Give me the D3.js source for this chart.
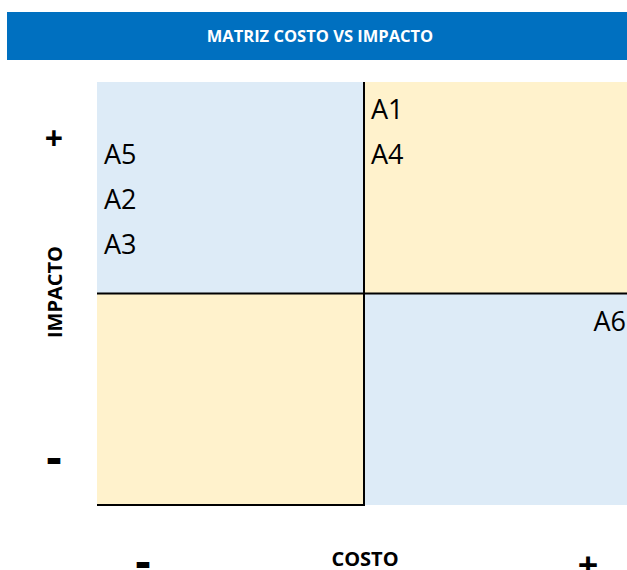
<!DOCTYPE html>
<html>
<head>
<meta charset="utf-8">
<script src="https://cdn.jsdelivr.net/npm/d3@7"></script>
<style>
  body { margin: 0; background: #fff; }
  svg { display: block; font-family: "Open Sans", sans-serif; }
</style>
</head>
<body>
<div id="chart"></div>
<script>
const title = "MATRIZ COSTO VS IMPACTO";
const costLevels = ["-", "+"];
const impactLevels = ["+", "-"];
const quadrantColors = ["#DDEBF7", "#FFF2CC", "#FFF2CC", "#DDEBF7"];
const items = ["A1", "A4", "A5", "A2", "A3", "A6"];
const itemCost = ["+", "+", "-", "-", "-", "+"];
const itemImpact = ["+", "+", "+", "+", "+", "-"];
const itemRow = [0, 1, 1, 2, 3, 0];

const width = 627, height = 570;
const svg = d3.select("#chart").append("svg").attr("width", width).attr("height", height);

// header
svg.append("rect").attr("x", 7).attr("y", 12).attr("width", width - 7).attr("height", 48).attr("fill", "#0070C0");
svg.append("text").attr("x", 320).attr("y", 42).attr("text-anchor", "middle")
  .attr("fill", "#fff").attr("font-weight", "bold").attr("font-size", "16.5px").text(title);

const x = d3.scaleBand().domain(costLevels).range([97, 631]);
const y = d3.scaleBand().domain(impactLevels).range([82, 505]);

const quads = [];
impactLevels.forEach(im => costLevels.forEach(c => quads.push({ cost: c, impact: im })));
svg.selectAll(".quad").data(quads).enter().append("rect")
  .attr("class", "quad")
  .attr("x", d => x(d.cost)).attr("y", d => y(d.impact))
  .attr("width", x.bandwidth()).attr("height", y.bandwidth())
  .attr("fill", (d, i) => quadrantColors[i]);

// divider lines
const midX = x("+"), midY = y("-");
svg.append("line").attr("x1", midX).attr("x2", midX).attr("y1", y("+")).attr("y2", y.range()[1] + 1)
  .attr("stroke", "#000").attr("stroke-width", 2);
svg.append("line").attr("x1", x("-")).attr("x2", width).attr("y1", midY).attr("y2", midY)
  .attr("stroke", "#000").attr("stroke-width", 2);
svg.append("line").attr("x1", x("-")).attr("x2", midX + 1).attr("y1", y.range()[1]).attr("y2", y.range()[1])
  .attr("stroke", "#000").attr("stroke-width", 2);

// items
const rowStep = 45;
svg.selectAll(".item").data(items).enter().append("text")
  .attr("class", "item")
  .attr("x", (d, i) => itemCost[i] === "+" && itemImpact[i] === "-" ? width - 1 : x(itemCost[i]) + 7)
  .attr("y", (d, i) => y(itemImpact[i]) + 37 + itemRow[i] * rowStep)
  .attr("text-anchor", (d, i) => itemCost[i] === "+" && itemImpact[i] === "-" ? "end" : "start")
  .attr("font-size", "27px").attr("fill", "#000")
  .text(d => d);

// axis signs
svg.append("text").attr("x", 54).attr("y", 150).attr("text-anchor", "middle")
  .attr("font-weight", "bold").attr("font-size", "32px").text(impactLevels[0]);
svg.append("text").attr("x", 54).attr("y", 474).attr("text-anchor", "middle")
  .attr("font-weight", "bold").attr("font-size", "48px").text(impactLevels[1]);
svg.append("text").attr("x", 143).attr("y", 578).attr("text-anchor", "middle")
  .attr("font-weight", "bold").attr("font-size", "48px").text(costLevels[0]);
svg.append("text").attr("x", 588).attr("y", 578).attr("text-anchor", "middle")
  .attr("font-weight", "bold").attr("font-size", "36px").text(costLevels[1]);

// axis titles
svg.append("text").attr("x", 365).attr("y", 566).attr("text-anchor", "middle")
  .attr("font-weight", "bold").attr("font-size", "20px").text("COSTO");
svg.append("text").attr("transform", "translate(62,292) rotate(-90)").attr("text-anchor", "middle")
  .attr("font-weight", "bold").attr("font-size", "20px").text("IMPACTO");
</script>
</body>
</html>
